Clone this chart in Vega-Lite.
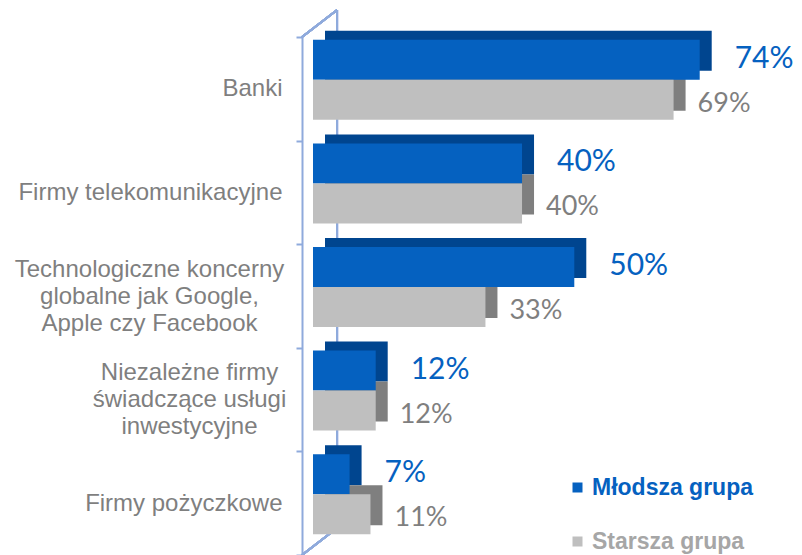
{
  "$schema": "https://vega.github.io/schema/vega-lite/v6.json",
  "width": 486,
  "height": 518,
  "autosize": "none",
  "padding": {"left": 313, "top": 37, "right": 3, "bottom": 0},
  "background": "white",
  "config": {"view": {"stroke": null}},
  "data": {
    "values": [
      {"kategoria": "Banki", "grupa": "Młodsza grupa", "wartosc": 74, "etykieta": "74%"},
      {"kategoria": "Banki", "grupa": "Starsza grupa", "wartosc": 69, "etykieta": "69%"},
      {"kategoria": "Firmy telekomunikacyjne", "grupa": "Młodsza grupa", "wartosc": 40, "etykieta": "40%"},
      {"kategoria": "Firmy telekomunikacyjne", "grupa": "Starsza grupa", "wartosc": 40, "etykieta": "40%"},
      {"kategoria": "Technologiczne koncerny globalne jak Google, Apple czy Facebook", "grupa": "Młodsza grupa", "wartosc": 50, "etykieta": "50%"},
      {"kategoria": "Technologiczne koncerny globalne jak Google, Apple czy Facebook", "grupa": "Starsza grupa", "wartosc": 33, "etykieta": "33%"},
      {"kategoria": "Niezależne firmy świadczące usługi inwestycyjne", "grupa": "Młodsza grupa", "wartosc": 12, "etykieta": "12%"},
      {"kategoria": "Niezależne firmy świadczące usługi inwestycyjne", "grupa": "Starsza grupa", "wartosc": 12, "etykieta": "12%"},
      {"kategoria": "Firmy pożyczkowe", "grupa": "Młodsza grupa", "wartosc": 7, "etykieta": "7%"},
      {"kategoria": "Firmy pożyczkowe", "grupa": "Starsza grupa", "wartosc": 11, "etykieta": "11%"}
    ]
  },
  "encoding": {
    "y": {
      "field": "kategoria",
      "type": "nominal",
      "sort": null,
      "scale": {
        "domain": ["Banki", "Firmy telekomunikacyjne", "Technologiczne koncerny globalne jak Google, Apple czy Facebook", "Niezależne firmy świadczące usługi inwestycyjne", "Firmy pożyczkowe"],
        "paddingInner": 0, "paddingOuter": 0
      },
      "axis": {
        "title": null,
        "offset": 11,
        "domainColor": "#8faadc",
        "domainWidth": 2,
        "tickColor": "#8faadc",
        "tickWidth": 2,
        "tickSize": 6,
        "tickBand": "extent",
        "labelFont": "Liberation Sans",
        "labelFontSize": 24,
        "labelColor": "#7f7f7f",
        "labelLineHeight": 27,
        "labelLimit": 0,
        "labelBaseline": "middle",
        "labelAlign": {"condition": {"test": "datum.value == 'Technologiczne koncerny globalne jak Google, Apple czy Facebook' || datum.value == 'Niezależne firmy świadczące usługi inwestycyjne'", "value": "center"}, "value": "right"},
        "labelOffset": {"condition": {"test": "datum.value == 'Technologiczne koncerny globalne jak Google, Apple czy Facebook' || datum.value == 'Niezależne firmy świadczące usługi inwestycyjne'", "value": -27}, "value": 0},
        "labelPadding": {"condition": [
          {"test": "datum.value == 'Technologiczne koncerny globalne jak Google, Apple czy Facebook'", "value": 147},
          {"test": "datum.value == 'Niezależne firmy świadczące usługi inwestycyjne'", "value": 107}
        ], "value": 14},
        "labelExpr": "datum.value == 'Technologiczne koncerny globalne jak Google, Apple czy Facebook' ? ['Technologiczne koncerny', 'globalne jak Google,', 'Apple czy Facebook'] : datum.value == 'Niezależne firmy świadczące usługi inwestycyjne' ? ['Niezależne firmy', 'świadczące usługi', 'inwestycyjne'] : datum.label"
      }
    }
  },
  "layer": [
    {
      "mark": {"type": "rule", "color": "#8faadc", "strokeWidth": 2, "yOffset": -27, "y2Offset": -27},
      "encoding": {
        "x": {"datum": 4.6, "type": "quantitative", "scale": {"domain": [0, 93], "nice": false}, "axis": null},
        "y": {"datum": "Banki", "type": "nominal", "bandPosition": 0},
        "y2": {"datum": "Firmy pożyczkowe", "bandPosition": 1}
      }
    },
    {
      "mark": {"type": "rule", "color": "#8faadc", "strokeWidth": 2, "y2Offset": -27},
      "encoding": {
        "x": {"datum": -2.1, "type": "quantitative"},
        "x2": {"datum": 4.6},
        "y": {"datum": "Banki", "type": "nominal", "bandPosition": 0},
        "y2": {"datum": "Banki", "bandPosition": 0}
      }
    },
    {
      "mark": {"type": "rule", "color": "#8faadc", "strokeWidth": 2, "y2Offset": -27},
      "encoding": {
        "x": {"datum": -2.1, "type": "quantitative"},
        "x2": {"datum": 4.6},
        "y": {"datum": "Firmy pożyczkowe", "type": "nominal", "bandPosition": 1},
        "y2": {"datum": "Firmy pożyczkowe", "bandPosition": 1}
      }
    },
    {
      "transform": [{"filter": "datum.grupa == 'Młodsza grupa'"}],
      "mark": {"type": "bar", "color": "#00458f", "height": {"band": 0.386}, "xOffset": 12, "x2Offset": 12, "yOffset": -38},
      "encoding": {
        "x": {"field": "wartosc", "type": "quantitative"}
      }
    },
    {
      "transform": [{"filter": "datum.grupa == 'Starsza grupa'"}],
      "mark": {"type": "bar", "color": "#7f7f7f", "height": {"band": 0.386}, "xOffset": 12, "x2Offset": 12, "yOffset": 2},
      "encoding": {
        "x": {"field": "wartosc", "type": "quantitative"}
      }
    },
    {
      "transform": [{"filter": "datum.grupa == 'Młodsza grupa'"}],
      "mark": {"type": "bar", "height": {"band": 0.386}, "yOffset": -29},
      "encoding": {
        "x": {"field": "wartosc", "type": "quantitative"},
        "color": {
          "field": "grupa",
          "type": "nominal",
          "scale": {"domain": ["Młodsza grupa", "Starsza grupa"], "range": ["#0561c0", "#bfbfbf"]},
          "legend": {
            "title": null,
            "orient": "none",
            "legendX": 253,
            "legendY": 439,
            "symbolType": "square",
            "symbolSize": 100,
            "symbolStrokeWidth": 0,
            "labelFont": "Liberation Sans",
            "labelFontSize": 23,
            "labelFontWeight": "bold",
            "labelColor": {"expr": "datum.value == 'Młodsza grupa' ? '#0561c0' : '#a6a6a6'"},
            "labelOffset": 3,
            "rowPadding": 30,
            "labelLimit": 0
          }
        }
      }
    },
    {
      "transform": [{"filter": "datum.grupa == 'Starsza grupa'"}],
      "mark": {"type": "bar", "height": {"band": 0.386}, "yOffset": 11},
      "encoding": {
        "x": {"field": "wartosc", "type": "quantitative"},
        "color": {"field": "grupa", "type": "nominal"}
      }
    },
    {
      "transform": [{"filter": "datum.grupa == 'Młodsza grupa'"}],
      "mark": {"type": "text", "align": "left", "baseline": "middle", "dx": 35, "yOffset": -30, "font": "Lato", "fontSize": 30, "color": "#0561c0"},
      "encoding": {
        "x": {"field": "wartosc", "type": "quantitative"},
        "text": {"field": "etykieta", "type": "nominal"}
      }
    },
    {
      "transform": [{"filter": "datum.grupa == 'Starsza grupa'"}],
      "mark": {"type": "text", "align": "left", "baseline": "middle", "dx": 24, "yOffset": 15, "font": "Lato", "fontSize": 27, "color": "#7f7f7f"},
      "encoding": {
        "x": {"field": "wartosc", "type": "quantitative"},
        "text": {"field": "etykieta", "type": "nominal"}
      }
    }
  ]
}
